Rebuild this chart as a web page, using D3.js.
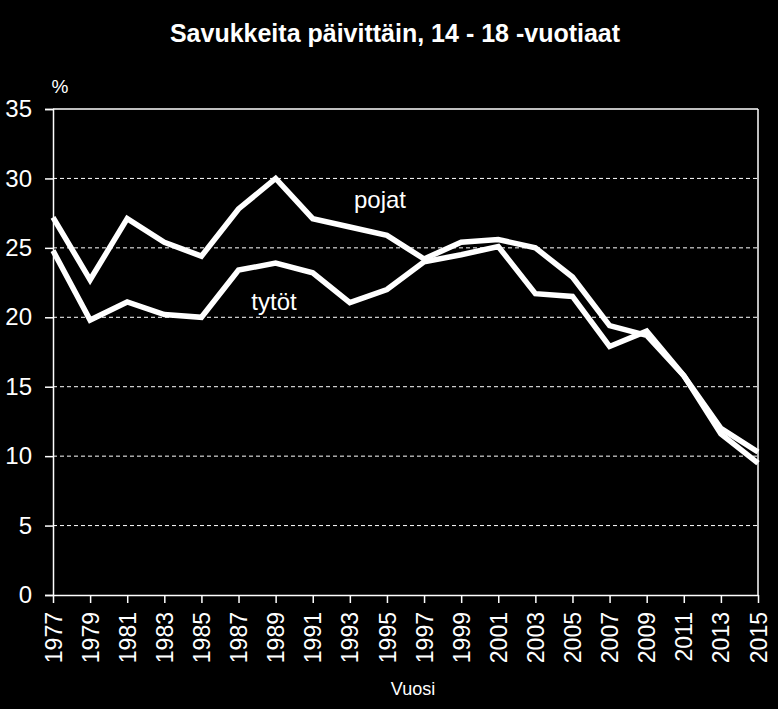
<!DOCTYPE html>
<html><head><meta charset="utf-8">
<script src="https://cdn.jsdelivr.net/npm/d3@7"></script>
<style>
html,body{margin:0;padding:0;background:#000;}
svg{display:block;}
text{font-family:"Liberation Sans",Arial,sans-serif;fill:#fff;}
</style></head>
<body>
<svg id="c" width="778" height="709"></svg>
<script>
const years = [1977,1979,1981,1983,1985,1987,1989,1991,1993,1995,1997,1999,2001,2003,2005,2007,2009,2011,2013,2015];
const pojat = [27.2,22.7,27.1,25.4,24.4,27.8,30.0,27.1,26.5,25.9,24.2,25.4,25.6,25.0,22.9,19.4,18.7,15.8,12.0,10.3];
const tytot = [24.8,19.8,21.1,20.2,20.0,23.4,23.9,23.2,21.05,22.0,24.0,24.5,25.1,21.7,21.5,17.9,19.0,15.8,11.6,9.5];
const yTicks = [0,5,10,15,20,25,30,35];
const title = "Savukkeita päivittäin, 14 - 18 -vuotiaat";

const svg = d3.select("#c");
svg.append("rect").attr("width",778).attr("height",709).attr("fill","#000");
const L=53, R=758, T=109, B=595;
const x = d3.scalePoint().domain(years).range([L,R]);
const y = d3.scaleLinear().domain([0,35]).range([B,T]);

// gridlines
svg.append("g").selectAll("line").data(yTicks.filter(d=>d>0&&d<35)).join("line")
  .attr("x1",L).attr("x2",R).attr("y1",d=>y(d)).attr("y2",d=>y(d))
  .attr("stroke","#fff").attr("stroke-width",1).attr("stroke-dasharray","4,3");
// border top/right
svg.append("line").attr("x1",L).attr("x2",R).attr("y1",y(35)).attr("y2",y(35)).attr("stroke","#fff").attr("stroke-width",1.5);
svg.append("line").attr("x1",R).attr("x2",R).attr("y1",T).attr("y2",B).attr("stroke","#fff").attr("stroke-width",1.5);

// y axis
const ya = svg.append("g").attr("transform",`translate(${L},0)`)
  .call(d3.axisLeft(y).tickValues(yTicks).tickSize(8).tickPadding(13).tickFormat(d3.format("d")));
ya.select(".domain").attr("stroke","#fff").attr("stroke-width",1.5);
ya.selectAll(".tick line").attr("stroke","#fff").attr("stroke-width",1.5);
ya.selectAll(".tick text").attr("fill","#fff").style("font-size","24px").style("font-family","'Liberation Sans',Arial,sans-serif");

// x axis
const xa = svg.append("g").attr("transform",`translate(0,${B})`)
  .call(d3.axisBottom(x).tickSize(8).tickSizeOuter(0));
xa.select(".domain").attr("stroke","#fff").attr("stroke-width",1.5);
xa.selectAll(".tick line").attr("stroke","#fff").attr("stroke-width",1.5);
xa.selectAll(".tick text").attr("fill","#fff").style("font-size","23px").style("font-family","'Liberation Sans',Arial,sans-serif")
  .attr("transform","rotate(-90)").attr("text-anchor","end").attr("dy","0.35em").attr("x",-17).attr("y",0);

// lines
const line = d3.line().x((d,i)=>x(years[i])).y(d=>y(d));
[pojat,tytot].forEach(s=>{
  svg.append("path").datum(s).attr("d",line).attr("fill","none")
    .attr("stroke","#fff").attr("stroke-width",5.5).attr("stroke-linejoin","miter");
});

// labels
svg.append("text").attr("x",380).attr("y",208).attr("text-anchor","middle").style("font-size","24px").text("pojat");
svg.append("text").attr("x",274).attr("y",310).attr("text-anchor","middle").style("font-size","24px").text("tytöt");
svg.append("text").attr("x",395).attr("y",42).attr("text-anchor","middle").style("font-size","25px").style("font-weight","bold").text(title);
svg.append("text").attr("x",60).attr("y",93).attr("text-anchor","middle").style("font-size","19px").text("%");
svg.append("text").attr("x",413).attr("y",695).attr("text-anchor","middle").style("font-size","18px").text("Vuosi");
</script>
</body></html>
